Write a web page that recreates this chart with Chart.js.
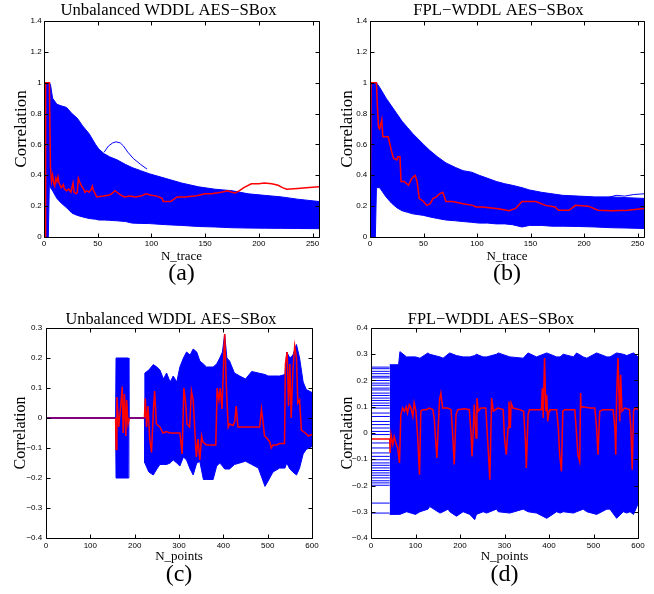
<!DOCTYPE html>
<html>
<head>
<meta charset="utf-8">
<script src="https://cdn.jsdelivr.net/npm/chart.js@4.4.1/dist/chart.umd.min.js"></script>
<style>
  html, body { margin: 0; padding: 0; background: #fff; }
  body { width: 654px; height: 594px; overflow: hidden; position: relative; }
  canvas { position: absolute; }
</style>
</head>
<body>
<canvas id="chart-a" width="337" height="290" style="left:0px;top:0px"></canvas>
<canvas id="chart-b" width="337" height="290" style="left:330px;top:0px"></canvas>
<canvas id="chart-c" width="342" height="293" style="left:0px;top:298px"></canvas>
<canvas id="chart-d" width="322" height="293" style="left:330px;top:298px"></canvas>
<script>
// ticks
const traceTicks = [0, 50, 100, 150, 200, 250];
const traceLabels = ['0', '50', '100', '150', '200', '250'];
const corrTicks = [0, 0.2, 0.4, 0.6, 0.8, 1, 1.2, 1.4];
const corrLabels = ['0', '0.2', '0.4', '0.6', '0.8', '1', '1.2', '1.4'];
const pointTicks = [0, 100, 200, 300, 400, 500, 600];
const pointLabels = ['0', '100', '200', '300', '400', '500', '600'];
const cYTicks = [-0.4, -0.3, -0.2, -0.1, 0, 0.1, 0.2, 0.3];
const cYLabels = ['\u22120.4', '\u22120.3', '\u22120.2', '\u22120.1', '0', '0.1', '0.2', '0.3'];
const dYTicks = [-0.4, -0.3, -0.2, -0.1, 0, 0.1, 0.2, 0.3, 0.4];
const dYLabels = ['\u22120.4', '\u22120.3', '\u22120.2', '\u22120.1', '0', '0.1', '0.2', '0.3', '0.4'];

// (a) unbalanced WDDL, correlation vs number of traces
const aBandX    = [0, 1, 4, 5, 6, 8, 12, 16, 21, 26, 31, 36, 42, 48, 51, 56, 61, 68, 76, 82, 90, 98, 113, 128, 144, 159, 175, 190, 205, 221, 236, 256];
const aBandHigh = [0.45, 1, 1, 1, 0.99, 0.9, 0.86, 0.85, 0.84, 0.8, 0.77, 0.72, 0.67, 0.6, 0.57, 0.54, 0.52, 0.5, 0.47, 0.45, 0.43, 0.41, 0.38, 0.35, 0.325, 0.31, 0.3, 0.28, 0.27, 0.26, 0.245, 0.23];
const aBandLow  = [0, 0, 0, 0.35, 0.32, 0.3, 0.25, 0.22, 0.19, 0.155, 0.14, 0.13, 0.12, 0.115, 0.11, 0.11, 0.108, 0.105, 0.1, 0.09, 0.088, 0.087, 0.08, 0.075, 0.068, 0.065, 0.06, 0.058, 0.057, 0.056, 0.055, 0.054];
const aLoopX = [56, 60, 64, 67, 71, 74, 78, 83, 90, 96];
const aLoopY = [0.55, 0.59, 0.61, 0.617, 0.61, 0.59, 0.55, 0.51, 0.47, 0.44];
const aRedX = [0, 1, 1.5, 5, 6, 7, 8, 9, 10, 11, 12, 13, 14, 16, 18, 19, 21, 23, 25, 27, 28, 30, 31, 32, 33, 35, 37, 38, 40, 42, 44, 45, 46, 47, 49, 55, 60, 63, 66, 68, 70, 72, 75, 80, 85, 90, 95, 100, 105, 110, 111, 118, 120, 124, 131, 140, 144, 150, 156, 165, 171, 175, 178, 182, 186, 193, 200, 205, 212, 218, 222, 226, 236, 244, 256];
const aRedY = [0, 0, 1, 1, 0.45, 0.36, 0.4, 0.35, 0.33, 0.38, 0.36, 0.39, 0.35, 0.32, 0.34, 0.31, 0.3, 0.31, 0.29, 0.35, 0.29, 0.28, 0.29, 0.38, 0.36, 0.33, 0.31, 0.29, 0.3, 0.29, 0.31, 0.33, 0.3, 0.29, 0.26, 0.265, 0.27, 0.28, 0.3, 0.29, 0.28, 0.27, 0.26, 0.265, 0.26, 0.265, 0.28, 0.27, 0.265, 0.25, 0.23, 0.23, 0.24, 0.26, 0.26, 0.265, 0.27, 0.28, 0.28, 0.29, 0.3, 0.29, 0.285, 0.3, 0.32, 0.345, 0.345, 0.35, 0.345, 0.335, 0.32, 0.31, 0.315, 0.32, 0.325];

// (b) FPL-WDDL, correlation vs number of traces
const bBandX    = [0, 1, 5, 6, 9, 15, 20, 25, 30, 35, 40, 50, 56, 63, 71, 80, 87, 95, 102, 110, 118, 126, 133, 142, 149, 160, 170, 180, 195, 210, 226, 240, 256];
const bBandHigh = [0.83, 1, 1, 1, 0.97, 0.9, 0.85, 0.8, 0.75, 0.71, 0.67, 0.6, 0.56, 0.52, 0.48, 0.45, 0.43, 0.42, 0.4, 0.38, 0.36, 0.345, 0.335, 0.32, 0.305, 0.29, 0.28, 0.27, 0.265, 0.26, 0.26, 0.255, 0.25];
const bBandLow  = [0, 0, 0, 0.32, 0.32, 0.26, 0.22, 0.19, 0.17, 0.16, 0.15, 0.14, 0.13, 0.12, 0.11, 0.105, 0.1, 0.095, 0.09, 0.09, 0.085, 0.085, 0.08, 0.065, 0.075, 0.075, 0.07, 0.07, 0.068, 0.065, 0.06, 0.058, 0.055];
const bTailX = [222, 230, 238, 246, 256];
const bTailY = [0.255, 0.27, 0.265, 0.275, 0.28];
const bRedX = [0, 1, 6, 7, 8, 9, 11, 12, 15, 17, 20, 22, 25, 26, 28, 29, 32, 36, 39, 42, 44, 46, 50, 53, 56, 59, 62, 65, 68, 70, 71, 77, 87, 96, 99, 105, 118, 124, 130, 136, 142, 155, 164, 173, 176, 186, 192, 204, 213, 226, 241, 256];
const bRedY = [0, 1, 1, 0.83, 0.71, 0.7, 0.76, 0.65, 0.65, 0.65, 0.56, 0.51, 0.5, 0.52, 0.52, 0.36, 0.36, 0.335, 0.38, 0.4, 0.36, 0.25, 0.23, 0.205, 0.215, 0.25, 0.26, 0.28, 0.29, 0.25, 0.23, 0.23, 0.215, 0.205, 0.195, 0.195, 0.185, 0.178, 0.17, 0.185, 0.23, 0.23, 0.205, 0.195, 0.173, 0.173, 0.205, 0.2, 0.173, 0.17, 0.173, 0.185];

// (c) unbalanced WDDL, correlation vs sample points
const cBandX    = [0, 157, 158, 186, 187, 222, 223, 232, 242, 250, 257, 265, 272, 280, 287, 295, 302, 310, 317, 325, 332, 340, 347, 355, 362, 370, 377, 385, 392, 398, 403, 408, 414, 425, 437, 450, 464, 479, 494, 501, 512, 527, 539, 543, 550, 557, 565, 572, 580, 587, 600];
const cBandHigh = [0, 0, 0.2, 0.2, 0, 0, 0.15, 0.16, 0.178, 0.17, 0.16, 0.13, 0.15, 0.12, 0.14, 0.12, 0.17, 0.2, 0.22, 0.21, 0.23, 0.22, 0.19, 0.18, 0.17, 0.17, 0.17, 0.18, 0.2, 0.22, 0.28, 0.2, 0.19, 0.15, 0.14, 0.13, 0.155, 0.15, 0.145, 0.14, 0.14, 0.14, 0.145, 0.22, 0.2, 0.21, 0.245, 0.2, 0.12, 0.095, 0.085];
const cBandLow  = [0, 0, -0.2, -0.2, 0, 0, -0.15, -0.18, -0.19, -0.17, -0.155, -0.155, -0.155, -0.15, -0.14, -0.15, -0.16, -0.13, -0.14, -0.17, -0.19, -0.15, -0.145, -0.205, -0.205, -0.205, -0.205, -0.16, -0.15, -0.16, -0.17, -0.17, -0.17, -0.155, -0.15, -0.144, -0.155, -0.167, -0.228, -0.21, -0.18, -0.167, -0.167, -0.15, -0.17, -0.18, -0.19, -0.167, -0.12, -0.105, -0.095];
const cRedX = [0, 157, 158, 160, 164, 168, 172, 174, 177, 180, 182, 185, 188, 222, 224, 227, 230, 234, 238, 242, 245, 249, 257, 264, 272, 279, 287, 298, 302, 307, 311, 315, 318, 324, 328, 332, 336, 339, 343, 347, 351, 354, 362, 377, 383, 386, 390, 393, 397, 401, 403, 407, 411, 414, 422, 426, 429, 433, 444, 467, 482, 486, 490, 493, 497, 505, 508, 512, 520, 527, 538, 540, 544, 547, 550, 553, 557, 561, 565, 568, 572, 576, 585, 592, 600];
const cRedY = [0, 0, -0.105, 0.07, -0.03, 0.03, 0.105, -0.05, 0.08, -0.06, 0.06, -0.02, 0, 0, 0.065, -0.03, 0.04, -0.07, -0.115, 0.02, 0.09, -0.02, -0.03, -0.05, -0.045, -0.05, -0.05, -0.05, -0.05, -0.12, 0.1, 0.05, -0.02, -0.03, 0.09, 0.06, -0.05, -0.13, -0.07, -0.14, -0.06, -0.08, -0.09, -0.09, -0.09, 0.1, 0.06, 0.1, 0.03, 0.2, 0.28, 0.1, -0.03, -0.02, -0.025, -0.01, 0.04, -0.03, -0.03, -0.03, -0.03, 0.03, -0.02, -0.06, -0.065, -0.08, -0.1, -0.09, -0.09, -0.085, -0.085, 0.18, 0.22, 0.04, 0.18, 0, 0.16, 0.24, 0.2, 0.05, 0.06, -0.04, -0.05, -0.06, -0.055];

// (d) FPL-WDDL, correlation vs sample points
const dLevels = [0.251, 0.245, 0.235, 0.226, 0.216, 0.21, 0.2, 0.19, 0.182, 0.171, 0.164, 0.152, 0.143, 0.133, 0.124, 0.114, 0.105, 0.095, 0.076, 0.063, 0.044, 0.032, 0.019, 0.006, -0.006, -0.038, -0.057, -0.076, -0.089, -0.102, -0.114, -0.123, -0.133, -0.143, -0.152, -0.161, -0.171, -0.182, -0.19, -0.199, -0.267, -0.305];
const dLevelEnd = 42;
const dBandX    = [42, 62, 65, 80, 100, 110, 128, 132, 155, 162, 173, 177, 192, 207, 222, 233, 237, 252, 260, 282, 286, 312, 342, 353, 372, 395, 417, 425, 432, 455, 462, 477, 485, 507, 530, 537, 552, 567, 575, 582, 590, 600];
const dBandHigh = [0.26, 0.26, 0.31, 0.29, 0.29, 0.285, 0.305, 0.3, 0.29, 0.285, 0.3, 0.305, 0.295, 0.29, 0.29, 0.295, 0.3, 0.29, 0.29, 0.3, 0.305, 0.29, 0.285, 0.305, 0.29, 0.305, 0.29, 0.29, 0.3, 0.29, 0.305, 0.29, 0.285, 0.305, 0.29, 0.29, 0.305, 0.3, 0.295, 0.3, 0.305, 0.29];
const dBandLow  = [-0.31, -0.31, -0.31, -0.3, -0.31, -0.3, -0.29, -0.28, -0.305, -0.3, -0.29, -0.3, -0.317, -0.3, -0.31, -0.33, -0.31, -0.3, -0.305, -0.29, -0.3, -0.305, -0.29, -0.3, -0.305, -0.325, -0.3, -0.305, -0.3, -0.305, -0.3, -0.29, -0.3, -0.31, -0.29, -0.29, -0.325, -0.3, -0.305, -0.3, -0.31, -0.27];
const dRedX = [0, 42, 43, 45, 49, 52, 56, 60, 64, 67, 71, 75, 79, 82, 86, 90, 94, 97, 101, 105, 109, 112, 116, 124, 131, 139, 142, 146, 148, 151, 154, 157, 161, 172, 180, 184, 187, 191, 195, 210, 221, 225, 227, 230, 232, 236, 238, 241, 247, 258, 264, 267, 271, 275, 285, 297, 300, 304, 308, 310, 313, 315, 319, 334, 343, 347, 349, 353, 356, 372, 383, 385, 387, 390, 393, 395, 397, 400, 402, 417, 421, 424, 428, 431, 435, 446, 458, 461, 465, 469, 471, 472, 476, 492, 503, 507, 510, 514, 521, 537, 544, 548, 550, 552, 555, 559, 561, 564, 570, 581, 584, 587, 590, 593, 600];
const dRedY = [-0.023, -0.023, -0.076, -0.006, -0.044, -0.013, -0.038, -0.057, -0.114, 0.07, 0.095, 0.083, 0.1, 0.076, 0.108, 0.095, 0.063, 0.114, 0.083, -0.019, -0.159, 0.083, 0.089, 0.089, 0.095, 0.089, 0.057, -0.044, -0.095, 0.019, 0.127, 0.152, 0.095, 0.095, 0.089, -0.019, -0.12, 0.07, 0.089, 0.092, 0.089, -0.006, -0.089, 0.019, 0.108, -0.019, 0.133, 0.083, 0.095, 0.095, -0.083, -0.178, 0.133, 0.083, 0.095, 0.089, -0.019, -0.083, 0.019, 0.12, 0.019, 0.114, 0.095, 0.089, 0.083, -0.032, -0.133, 0.07, 0.089, 0.089, 0.089, 0.17, 0.057, 0.286, 0.083, 0.146, 0.044, 0.083, 0.089, 0.089, 0.019, -0.083, -0.146, 0.083, 0.089, 0.089, 0.089, 0.019, -0.083, -0.108, 0.152, 0.095, 0.1, 0.095, 0.095, 0.019, -0.083, 0.083, 0.089, 0.089, 0.089, 0.019, -0.083, 0.146, 0.286, 0.044, 0.222, 0.083, 0.095, 0.089, 0.019, -0.14, 0.083, 0.095, 0.089];

const BLUE = '#0000ff', RED = '#ff0000', PURPLE = '#80007f';
const SERIF = "'Liberation Serif', 'Times New Roman', serif";
const SANS = "'Liberation Sans', Arial, sans-serif";

Chart.defaults.color = '#000';

function pts(xs, ys) { return xs.map((x, i) => ({ x: x, y: ys[i] })); }

function line(data, color, width, extra) {
    return Object.assign({ data: data, borderColor: color, borderWidth: width, pointRadius: 0, fill: false, tension: 0, xAxisID: 'x', yAxisID: 'y' }, extra || {});
}

function band(xs, high, low) {
    return [
        line(pts(xs, high), BLUE, 1, { fill: '+1', backgroundColor: BLUE }),
        line(pts(xs, low), BLUE, 1)
    ];
}

// MATLAB style box with inward ticks on all four sides
const boxTicks = {
    id: 'boxTicks',
    afterDraw(chart) {
        const { ctx, chartArea: a, scales: { x, y } } = chart;
        const L = Math.round(a.left) + 0.5, R = Math.round(a.right) + 0.5;
        const T = Math.round(a.top) + 0.5, B = Math.round(a.bottom) + 0.5;
        ctx.save();
        ctx.strokeStyle = '#000';
        ctx.lineWidth = 1;
        ctx.beginPath();
        ctx.rect(L, T, R - L, B - T);
        x.ticks.forEach(t => {
            const p = Math.round(x.getPixelForValue(t.value)) + 0.5;
            ctx.moveTo(p, B); ctx.lineTo(p, B - 4);
            ctx.moveTo(p, T); ctx.lineTo(p, T + 4);
        });
        y.ticks.forEach(t => {
            const p = Math.round(y.getPixelForValue(t.value)) + 0.5;
            ctx.moveTo(L, p); ctx.lineTo(L + 4, p);
            ctx.moveTo(R, p); ctx.lineTo(R - 4, p);
        });
        ctx.stroke();
        ctx.restore();
    }
};

function panel(id, p) {
    return new Chart(document.getElementById(id), {
        type: 'line',
        data: { datasets: p.datasets },
        plugins: [boxTicks],
        options: {
            responsive: false,
            animation: false,
            devicePixelRatio: 1,
            events: [],
            layout: { padding: 0 },
            plugins: {
                legend: { display: false },
                tooltip: { enabled: false },
                title: {
                    display: true, text: p.title,
                    font: { family: SERIF, size: p.titleSize, weight: 'normal', lineHeight: 0.8 },
                    padding: p.titlePad
                },
                subtitle: {
                    display: true, text: p.tag, position: 'bottom', fullSize: false,
                    font: { family: SERIF, size: 24, weight: 'normal', lineHeight: 0.8 },
                    padding: { top: 0, bottom: p.tagPad }
                }
            },
            scales: {
                x: {
                    type: 'linear', position: 'bottom', min: p.xMin, max: p.xMax,
                    afterBuildTicks: s => { s.ticks = p.xTicks.map(v => ({ value: v })); },
                    afterFit: s => { s.height = p.xH; },
                    ticks: { callback: (v, i) => p.xLabels[i], autoSkip: false, maxRotation: 0, padding: p.xTickPad, font: { family: SANS, size: 8 } },
                    grid: { display: false, drawTicks: false },
                    border: { display: false },
                    title: { display: true, text: p.xTitle, font: { family: SERIF, size: 13, lineHeight: 1 }, padding: { top: 0, bottom: p.xTitlePad } }
                },
                y: {
                    type: 'linear', position: 'left', min: p.yMin, max: p.yMax,
                    afterBuildTicks: s => { s.ticks = p.yTicks.map(v => ({ value: v })); },
                    afterFit: s => { s.width = p.yW; },
                    ticks: { callback: (v, i) => p.yLabels[i], autoSkip: false, padding: p.yTickPad, font: { family: SANS, size: 8 } },
                    grid: { display: false, drawTicks: false },
                    border: { display: false },
                    title: { display: true, text: 'Correlation', font: { family: SERIF, size: p.yTitleSize, lineHeight: 1 }, padding: { top: p.yTitlePad, bottom: 0 } }
                },
                yR: {
                    type: 'linear', position: 'right',
                    afterFit: s => { s.width = p.rW; },
                    ticks: { display: false },
                    grid: { display: false, drawTicks: false },
                    border: { display: false }
                }
            }
        }
    });
}

const dLevelData = [];
dLevels.forEach(v => { dLevelData.push({ x: 0, y: v }, { x: dLevelEnd, y: v }, { x: dLevelEnd, y: null }); });

panel('chart-a', {
    title: 'Unbalanced WDDL AES\u2212SBox', titleSize: 16.7, titlePad: { top: 3.6, bottom: 4.04 },
    tag: '(a)', tagPad: 6.9,
    xMin: 0, xMax: 256, xTicks: traceTicks, xLabels: traceLabels, xTitle: 'N_trace', xH: 26.9, xTickPad: 2.1, xTitlePad: 1.3,
    yMin: 0, yMax: 1.4, yTicks: corrTicks, yLabels: corrLabels, yW: 44, yTickPad: 2.3, yTitleSize: 17, yTitlePad: 12.6,
    rW: 18,
    datasets: [
        line(pts(aRedX, aRedY), RED, 1.5),
        ...band(aBandX, aBandHigh, aBandLow),
        line(pts(aLoopX, aLoopY), BLUE, 1)
    ]
});

panel('chart-b', {
    title: 'FPL\u2212WDDL AES\u2212SBox', titleSize: 16.7, titlePad: { top: 3.6, bottom: 4.04 },
    tag: '(b)', tagPad: 6.9,
    xMin: 0, xMax: 256, xTicks: traceTicks, xLabels: traceLabels, xTitle: 'N_trace', xH: 26.9, xTickPad: 2.1, xTitlePad: 1.3,
    yMin: 0, yMax: 1.4, yTicks: corrTicks, yLabels: corrLabels, yW: 40, yTickPad: 2.7, yTitleSize: 17, yTitlePad: 9.1,
    rW: 23,
    datasets: [
        line(pts(bRedX, bRedY), RED, 1.5),
        ...band(bBandX, bBandHigh, bBandLow),
        line(pts(bTailX, bTailY), BLUE, 1)
    ]
});

panel('chart-c', {
    title: 'Unbalanced WDDL AES\u2212SBox', titleSize: 16.3, titlePad: { top: 15.68, bottom: 1.28 },
    tag: '(c)', tagPad: 6.4,
    xMin: 0, xMax: 600, xTicks: pointTicks, xLabels: pointLabels, xTitle: 'N_points', xH: 27.4, xTickPad: 2.9, xTitlePad: 2.6,
    yMin: -0.4, yMax: 0.3, yTicks: cYTicks, yLabels: cYLabels, yW: 46, yTickPad: 3.8, yTitleSize: 16, yTitlePad: 13,
    rW: 30,
    datasets: [
        line(pts(cRedX, cRedY), RED, 1.5, {
            segment: { borderColor: c => (c.p0.parsed.y === 0 && c.p1.parsed.y === 0) ? PURPLE : undefined, borderWidth: c => (c.p0.parsed.y === 0 && c.p1.parsed.y === 0) ? 2 : undefined }
        }),
        ...band(cBandX, cBandHigh, cBandLow)
    ]
});

panel('chart-d', {
    title: 'FPL\u2212WDDL AES\u2212SBox', titleSize: 16.3, titlePad: { top: 15.68, bottom: 1.28 },
    tag: '(d)', tagPad: 6.4,
    xMin: 0, xMax: 600, xTicks: pointTicks, xLabels: pointLabels, xTitle: 'N_points', xH: 27.4, xTickPad: 2.9, xTitlePad: 2.6,
    yMin: -0.4, yMax: 0.4, yTicks: dYTicks, yLabels: dYLabels, yW: 41, yTickPad: 3.3, yTitleSize: 16, yTitlePad: 9.6,
    rW: 14,
    datasets: [
        line(pts(dRedX, dRedY), RED, 1.5),
        ...band(dBandX, dBandHigh, dBandLow),
        line(dLevelData, BLUE, 1, { spanGaps: false })
    ]
});
</script>
</body>
</html>
